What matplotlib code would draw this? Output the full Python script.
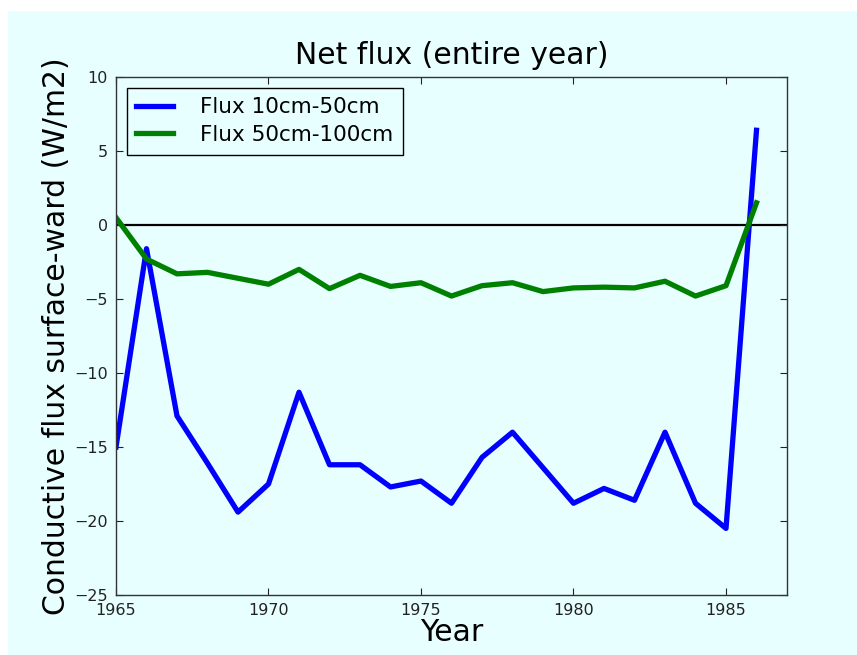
import matplotlib
matplotlib.use("Agg")
import matplotlib.pyplot as plt
from matplotlib.patches import Rectangle

years = list(range(1965, 1987))
flux_10_50 = [-15.0, -1.6, -12.9, -16.1, -19.4, -17.5, -11.3, -16.2, -16.2, -17.7,
              -17.3, -18.8, -15.7, -14.0, -16.4, -18.8, -17.8, -18.6, -14.0, -18.8,
              -20.5, 6.4]
flux_50_100 = [0.5, -2.3, -3.3, -3.2, -3.6, -4.0, -3.0, -4.3, -3.4, -4.15,
               -3.9, -4.8, -4.1, -3.9, -4.5, -4.25, -4.2, -4.25, -3.8, -4.8,
               -4.1, 1.5]
x_ticks = [1965, 1970, 1975, 1980, 1985]
y_ticks = [-25, -20, -15, -10, -5, 0, 5, 10]

bg = "#e8ffff"
W, H = 857, 655
fig = plt.figure(figsize=(W / 100, H / 100), dpi=100, facecolor="white")
fig.patches.append(Rectangle((8 / W, 0), (W - 8) / W, (H - 11) / H,
                             transform=fig.transFigure, facecolor=bg,
                             edgecolor="none", zorder=-10))

ax = fig.add_axes([116 / W, 1 - 595 / H, (787 - 116) / W, (595 - 77) / H])
ax.set_facecolor(bg)

ax.plot(years, flux_10_50, color="blue", lw=3.8, label="Flux 10cm-50cm")
ax.plot(years, flux_50_100, color="green", lw=3.8, label="Flux 50cm-100cm")
ax.axhline(0, color="black", lw=1.6, zorder=1)

ax.set_xlim(1965, 1987)
ax.set_ylim(-25, 10)
ax.set_xticks(x_ticks)
ax.set_yticks(y_ticks)
ax.tick_params(direction="in", top=True, right=True, length=5, width=0.8,
               labelsize=11.5, colors="#222222", pad=6)
for s in ax.spines.values():
    s.set_color("#333333")
    s.set_linewidth(1.0)

ax.set_title("Net flux (entire year)", fontsize=21.5, pad=9)
ax.set_xlabel("Year", fontsize=21.5, labelpad=0)
ax.set_ylabel("Conductive flux surface-ward (W/m2)", fontsize=21.5, labelpad=2)

leg = ax.legend(loc="upper left", fontsize=15.5, fancybox=False, framealpha=1,
                handlelength=1.7, borderpad=0.45, handletextpad=1.25,
                labelspacing=0.35, borderaxespad=0.5)
leg.get_frame().set_facecolor(bg)
leg.get_frame().set_edgecolor("black")
leg.get_frame().set_linewidth(1.0)

fig.savefig("out.png", dpi=100, facecolor=fig.get_facecolor())
